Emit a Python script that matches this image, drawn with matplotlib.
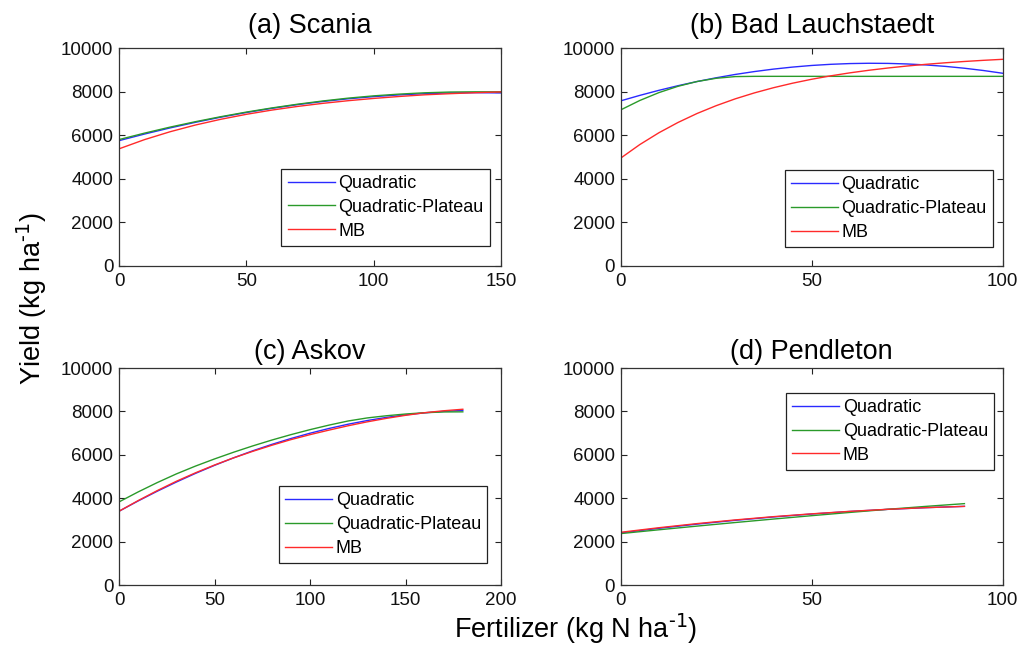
import matplotlib
matplotlib.use('Agg')
import matplotlib.pyplot as plt

plt.rcParams['font.family'] = ['Liberation Sans', 'DejaVu Sans']

# (a) Scania, N rates 0..150
x_scania = [0, 10, 20, 30, 40, 50, 60, 70, 80, 90, 100, 110, 120, 130, 140, 150]
quad_scania = [5750, 6053, 6333, 6591, 6827, 7040, 7231, 7400, 7546, 7671, 7770, 7849, 7905, 7939, 7951, 7940]
qp_scania = [5800, 6095, 6370, 6620, 6850, 7060, 7250, 7420, 7570, 7700, 7805, 7885, 7945, 7980, 7990, 7990]
mb_scania = [5375, 5797, 6157, 6467, 6731, 6958, 7152, 7318, 7461, 7583, 7687, 7776, 7853, 7905, 7950, 7985]

# (b) Bad Lauchstaedt, N rates 0..100
x_bad = [0, 5, 10, 15, 20, 25, 30, 35, 40, 45, 50, 55, 60, 65, 70, 75, 80, 85, 90, 95, 100]
quad_bad = [7575, 7826, 8058, 8270, 8462, 8634, 8787, 8919, 9032, 9125, 9199, 9252, 9286, 9300, 9294,
            9268, 9222, 9157, 9072, 8967, 8842]
qp_bad = [7160, 7592, 7953, 8243, 8463, 8611, 8689, 8700, 8700, 8700, 8700, 8700, 8700, 8700, 8700,
          8700, 8700, 8700, 8700, 8700, 8700]
mb_bad = [4947, 5569, 6111, 6583, 6996, 7354, 7668, 7940, 8178, 8385, 8566, 8723, 8860, 8979, 9083,
          9174, 9253, 9322, 9382, 9435, 9481]

# (c) Askov, N rates 0..180
x_askov = [0, 10, 20, 30, 40, 50, 60, 70, 80, 90, 100, 110, 120, 130, 140, 150, 160, 170, 180]
quad_askov = [3400, 3874, 4322, 4745, 5143, 5515, 5862, 6184, 6480, 6751, 6996, 7216, 7411, 7580, 7724,
              7842, 7935, 8003, 8045]
qp_askov = [3830, 4290, 4720, 5120, 5480, 5810, 6120, 6410, 6680, 6930, 7160, 7370, 7560, 7700, 7800,
            7880, 7940, 7975, 7980]
mb_askov = [3400, 3890, 4350, 4780, 5170, 5530, 5860, 6160, 6440, 6700, 6930, 7140, 7340, 7520, 7680,
            7820, 7940, 8030, 8100]

# (d) Pendleton, N rates 0..90
x_pend = [0, 10, 20, 30, 40, 50, 60, 70, 80, 90]
quad_pend = [2400, 2613, 2806, 2981, 3136, 3272, 3389, 3487, 3566, 3625]
qp_pend = [2370, 2545, 2715, 2880, 3040, 3195, 3345, 3490, 3625, 3750]
mb_pend = [2430, 2640, 2830, 3000, 3150, 3280, 3395, 3490, 3565, 3625]

labels = ['Quadratic', 'Quadratic-Plateau', 'MB']
colors = ['#2a2aff', '#2a9a2a', '#ff2a2a']

panels = [
    ('(a) Scania', x_scania, [quad_scania, qp_scania, mb_scania], 150, [0, 50, 100, 150]),
    ('(b) Bad Lauchstaedt', x_bad, [quad_bad, qp_bad, mb_bad], 100, [0, 50, 100]),
    ('(c) Askov', x_askov, [quad_askov, qp_askov, mb_askov], 200, [0, 50, 100, 150, 200]),
    ('(d) Pendleton', x_pend, [quad_pend, qp_pend, mb_pend], 100, [0, 50, 100]),
]

# axes boxes in figure fractions [left, bottom, width, height]
boxes = [
    [0.1166, 0.5889, 0.3741, 0.3369],
    [0.6079, 0.5889, 0.3741, 0.3369],
    [0.1166, 0.0958, 0.3741, 0.3354],
    [0.6079, 0.0958, 0.3741, 0.3354],
]
# legend placement per panel
legend_pos = [
    ('lower right', (0.971, 0.092)),
    ('lower right', (0.975, 0.086)),
    ('lower right', (0.964, 0.100)),
    ('upper right', (0.978, 0.886)),
]
title_pads = [11, 11, 6.5, 6.5]

fig = plt.figure(figsize=(10.21, 6.47), dpi=100)

for i, (title, x, series, xmax, xticks) in enumerate(panels):
    ax = fig.add_axes(boxes[i])
    for ys, lab, col in zip(series, labels, colors):
        ax.plot(x, ys, color=col, linewidth=1.0, label=lab)
    ax.set_xlim(0, xmax)
    ax.set_ylim(0, 10000)
    ax.set_xticks(xticks)
    ax.set_yticks([0, 2000, 4000, 6000, 8000, 10000])
    ax.tick_params(direction='in', length=4, width=0.8, top=True, right=True,
                   labelsize=13.5, pad=4, colors='#222222', labelcolor='#111111')
    ax.tick_params(axis='x', pad=5)
    for sp in ax.spines.values():
        sp.set_color('#333333')
        sp.set_linewidth(0.9)
    ax.set_title(title, fontsize=19.5, pad=title_pads[i])
    loc, anchor = legend_pos[i]
    leg = ax.legend(loc=loc, bbox_to_anchor=anchor, borderaxespad=0, fontsize=13,
                    fancybox=False, framealpha=1, edgecolor='#222222',
                    handlelength=2.6, handletextpad=0.2, labelspacing=0.38,
                    borderpad=0.35)
    leg.get_frame().set_linewidth(0.9)

fig.text(0.031, 0.5386, r'Yield (kg ha$^{\text{-1}}$)', rotation=90, fontsize=19.5,
         ha='center', va='center')
fig.text(0.564, 0.014, r'Fertilizer (kg N ha$^{\text{-1}}$)', fontsize=19.5,
         ha='center', va='baseline')

fig.savefig('out.png', dpi=100)
